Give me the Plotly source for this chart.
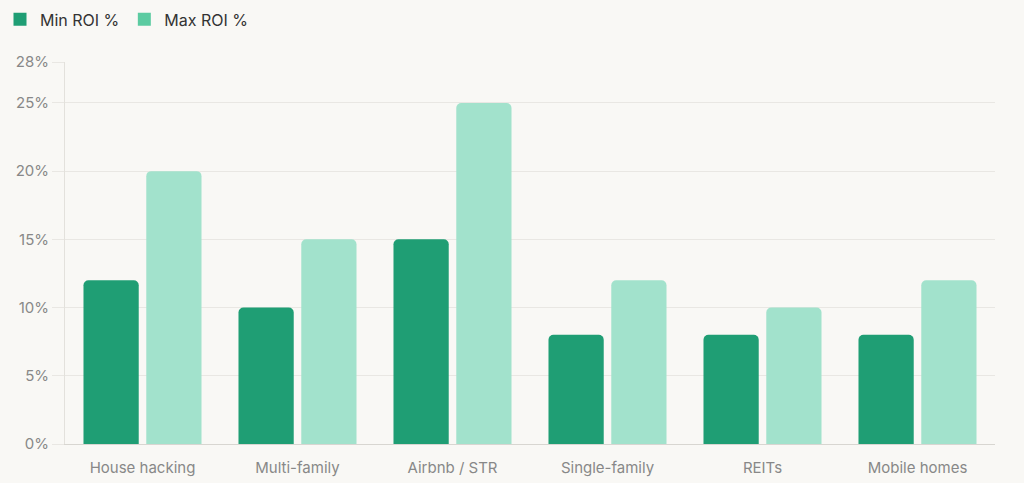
import plotly.graph_objects as go

# Investment strategies and their ROI ranges (%)
CATEGORIES = ["House hacking", "Multi-family", "Airbnb / STR", "Single-family", "REITs", "Mobile homes"]
MIN_ROI = [12, 10, 15, 8, 8, 8]
MAX_ROI = [20, 15, 25, 12, 10, 12]
Y_TICKS = [0, 5, 10, 15, 20, 25, 28]

MIN_COLOR = "#1f9e74"
MAX_COLOR = "#5ccba1"
MAX_BAR_COLOR = "#a2e2cc"
BG = "#f9f8f5"
FONT = "Inter, Lato, sans-serif"

fig = go.Figure()

fig.add_trace(go.Bar(
    x=CATEGORIES, y=MIN_ROI, name="Min ROI %",
    marker=dict(color=MIN_COLOR, cornerradius=5, line=dict(width=0)),
    showlegend=False,
))
fig.add_trace(go.Bar(
    x=CATEGORIES, y=MAX_ROI, name="Max ROI %",
    marker=dict(color=MAX_BAR_COLOR, cornerradius=5, line=dict(width=0)),
    showlegend=False,
))

# legend-only entries so the swatches keep the solid colours
for name, color in [("Min ROI %", MIN_COLOR), ("Max ROI %", MAX_COLOR)]:
    fig.add_trace(go.Scatter(
        x=[None], y=[None], mode="markers", name=name,
        marker=dict(symbol="square", size=13, color=color),
    ))

fig.update_layout(
    barmode="group",
    bargap=0.19,
    bargroupgap=0.12,
    paper_bgcolor=BG,
    plot_bgcolor=BG,
    font=dict(family=FONT, color="#888888", size=15),
    margin=dict(l=65, r=29, t=62, b=39),
    legend=dict(
        orientation="h",
        xref="container", yref="container",
        x=-0.004, y=0.995, xanchor="left", yanchor="top",
        font=dict(size=16, color="#333333"),
        itemwidth=30,
        bgcolor="rgba(0,0,0,0)",
    ),
    xaxis=dict(
        showgrid=False,
        showline=True, linecolor="#d8d6d1", linewidth=1,
        ticks="", ticklabelstandoff=10, automargin=False,
        tickfont=dict(size=15, color="#888888"),
    ),
    yaxis=dict(
        range=[0, 28],
        tickvals=Y_TICKS,
        ticktext=[f"{v}%" for v in Y_TICKS],
        showgrid=True, gridcolor="#e9e7e3", gridwidth=1,
        showline=True, linecolor="#e3e1dc", linewidth=1,
        zeroline=False,
        ticks="outside", ticklen=12, tickcolor="#e9e7e3",
        tickfont=dict(size=15, color="#888888"),
    ),
)

# drop the default page margin so the chart fills the window
fig.write_html(
    "out.html",
    config={"displayModeBar": False},
    post_script="document.body.style.margin='0';document.body.style.background='#f9f8f5';"
                "Plotly.Plots.resize(document.getElementById('{plot_id}'));",
)
